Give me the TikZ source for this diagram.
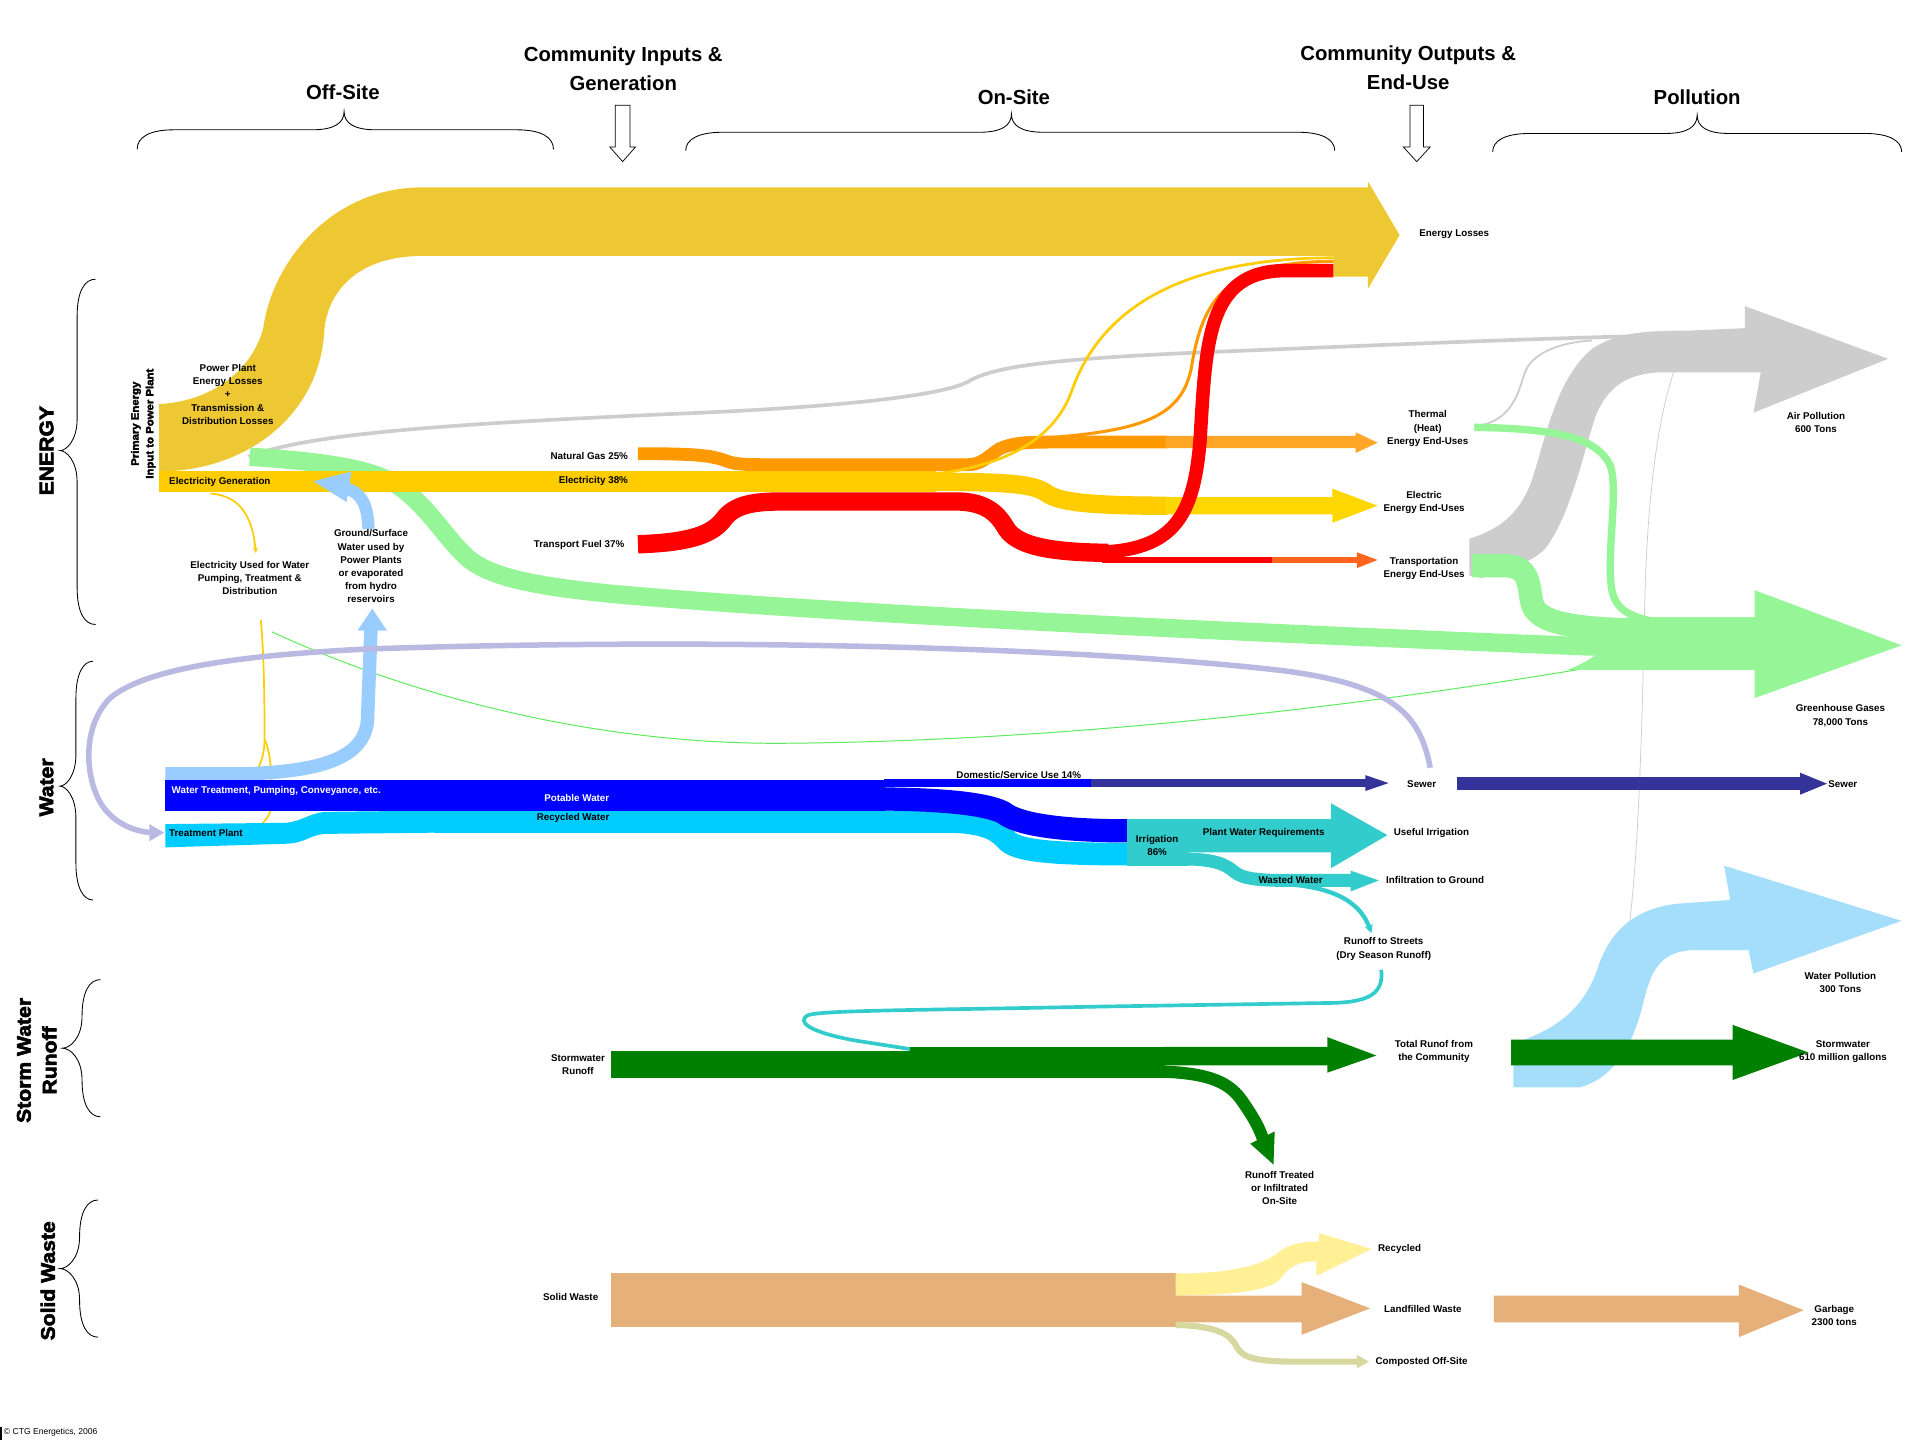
\documentclass[tikz,border=0pt]{standalone}
\usepackage{fontspec}
\setmainfont{Liberation Sans}
\newfontfamily\heavyfont[FakeStretch=1.08,FakeBold=3]{Liberation Sans}
\usetikzlibrary{arrows.meta}
\definecolor{lossY}{RGB}{238,200,50}
\definecolor{elecY}{RGB}{255,204,0}
\definecolor{elecEnd}{RGB}{255,215,0}
\definecolor{gasO}{RGB}{255,153,0}
\definecolor{gasEnd}{RGB}{255,165,40}
\definecolor{fuelR}{RGB}{255,0,0}
\definecolor{transO}{RGB}{255,100,30}
\definecolor{ghgC}{RGB}{150,245,150}
\definecolor{ghgLine}{RGB}{90,235,90}
\definecolor{airG}{RGB}{205,205,205}
\definecolor{ltBlue}{RGB}{153,204,255}
\definecolor{blueW}{RGB}{0,0,255}
\definecolor{cyanW}{RGB}{0,204,255}
\definecolor{navyW}{RGB}{51,51,153}
\definecolor{tealW}{RGB}{51,204,204}
\definecolor{lavC}{RGB}{185,185,225}
\definecolor{stormG}{RGB}{0,128,0}
\definecolor{wpolC}{RGB}{165,222,250}
\definecolor{tanC}{RGB}{230,176,122}
\definecolor{recyC}{RGB}{255,240,150}
\definecolor{compC}{RGB}{215,215,160}
\newcommand\hbr[6]{\draw[brace] (#1,#4) .. controls (#1,{#5+6}) and ({#1+10},#5) .. ({#1+30},#5) -- ({#3-26},#5) .. controls ({#3-8},#5) and (#3,{(#5+#6)/2+2}) .. (#3,#6) .. controls (#3,{(#5+#6)/2+2}) and ({#3+8},#5) .. ({#3+26},#5) -- ({#2-30},#5) .. controls ({#2-10},#5) and (#2,{#5+6}) .. (#2,#4);}
\newcommand\vbr[6]{\draw[brace] (#4,#1) .. controls ({#5+6},#1) and (#5,{#1+10}) .. (#5,{#1+30}) -- (#5,{#3-26}) .. controls (#5,{#3-8}) and ({(#5+#6)/2-2},#3) .. (#6,#3) .. controls ({(#5+#6)/2-2},#3) and (#5,{#3+8}) .. (#5,{#3+26}) -- (#5,{#2-30}) .. controls (#5,{#2-10}) and ({#5+6},#2) .. (#4,#2);}
\tikzset{
 lab/.style={font={\fontsize{8}{10.8}\selectfont\bfseries}, align=center, inner sep=0pt},
 hdr/.style={font={\fontsize{16.6}{24}\selectfont\bfseries}, align=center, inner sep=0pt},
 side/.style={font={\heavyfont\fontsize{16}{21}\selectfont\bfseries}, rotate=90, align=center, inner sep=0pt},
 brace/.style={draw=black, line width=0.7pt},
 band/.style={line cap=butt, line join=round},
 hollow/.style={draw=black, fill=white, line width=0.6pt},
}
\begin{document}
\begin{tikzpicture}[x=1pt,y=-1pt]
\useasboundingbox (0,0) rectangle (1568,1176);
\fill[white] (0,0) rectangle (1568,1176);

% ---------- headers ----------
\node[hdr] (offsite) at (280,75) {Off-Site};
\node[hdr] (cin) at (509,56) {Community Inputs \&\\Generation};
\node[hdr] (onsite) at (828,79) {On-Site};
\node[hdr] (cout) at (1150,55.5) {Community Outputs \&\\End-Use};
\node[hdr] (pollut) at (1386,79) {Pollution};

\hbr{112}{452}{281}{122}{106}{91}
\hbr{560}{1090}{826}{123}{108}{93}
\hbr{1219}{1553}{1386}{124}{109}{94}
\vbr{228}{510}{368}{78}{63}{49}
\vbr{540}{735}{642}{76}{62}{49}
\vbr{800}{912}{856}{82}{67}{51}
\vbr{980}{1092}{1036}{80}{65}{49}

\draw[hollow] (502.5,86) -- (514.5,86) -- (514.5,120) -- (519,120) -- (508.5,132) -- (498,120) -- (502.5,120) -- cycle;
\draw[hollow] (1151.5,86) -- (1162.5,86) -- (1162.5,120) -- (1168,120) -- (1157,132) -- (1146,120) -- (1151.5,120) -- cycle;

\node[side] (energy) at (38,368) {ENERGY};
\node[side] (water) at (38,643) {Water};
\node[side] (storm) at (30,866) {Storm Water\\Runoff};
\node[side] (solid) at (39,1046) {Solid Waste};

% ---------- energy losses ----------
\fill[lossY] (130,330) .. controls (170,328) and (205,305) .. (215,268) .. controls (222,215) and (270,153) .. (345,153) -- (1117,153) -- (1117,148) -- (1143,192) -- (1117,236) -- (1117,226) -- (1089,226) -- (1089,209) -- (345,209) .. controls (290,209) and (268,240) .. (265,268) .. controls (262,340) and (200,385) .. (130,385) -- cycle;

% thin gray line to air pollution
\draw[airG, line width=3pt] (203,373) .. controls (250,355) and (350,347) .. (550,338) .. controls (700,332) and (770,322) .. (790,312) .. controls (810,300) and (850,293) .. (1000,287) .. controls (1150,281) and (1300,274) .. (1425,273);

% long greenhouse band
\draw[ghgC, band, line width=15pt] (204,373) .. controls (280,378) and (310,385) .. (330,400) .. controls (352,418) and (362,436) .. (378,452) .. controls (395,470) and (430,478) .. (500,485) .. controls (700,503) and (1100,520) .. (1300,528) -- (1440,528);
% thin green line
\draw[ghgLine, line width=0.8pt] (222,516) .. controls (350,575) and (500,608) .. (640,607) .. controls (900,605) and (1150,570) .. (1300,545) -- (1433,540);

% electricity
\fill[elecY] (130,385) rectangle (764,402);
\draw[elecY, band, line width=15pt] (763,393.5) .. controls (830,393.5) and (845,396) .. (855,403) .. controls (865,410) and (890,413) .. (953,413);
\fill[elecEnd] (952,406) -- (1088,406) -- (1088,399) -- (1125,413) -- (1088,427) -- (1088,420) -- (952,420) -- cycle;

% natural gas
\draw[gasO, band, line width=10.5pt] (521,370.5) .. controls (570,370.5) and (580,372) .. (592,376) .. controls (600,379.5) and (610,379.5) .. (630,379.5) -- (790,379.5) .. controls (805,379.5) and (810,368) .. (820,365) .. controls (830,361.5) and (840,361) .. (860,361) -- (953,361);
\fill[gasEnd] (952,356) -- (1107,356) -- (1107,353) -- (1125,361.5) -- (1107,370) -- (1107,366) -- (952,366) -- cycle;

% transport fuel
\draw[fuelR, band, line width=15pt] (521,444.5) .. controls (565,443) and (582,436) .. (591,424) .. controls (600,412) and (615,409.5) .. (640,409.5) -- (780,409.5) .. controls (806,409.5) and (815,420) .. (822,432) .. controls (832,447) and (862,451) .. (905,451.5);
\draw[fuelR, band, line width=5.5pt] (900,457.3) -- (1040,457.3);
\draw[transO, band, line width=5.5pt] (1039,457.3) -- (1110,457.3);
\fill[transO] (1108,451) -- (1125,457.3) -- (1108,464) -- cycle;

% lines up to energy losses
\draw[elecY, line width=2.2pt] (764,387) .. controls (820,380) and (860,360) .. (875,320) .. controls (895,262) and (950,211) .. (1089,210.5);
\draw[gasO, line width=2.5pt] (850,358) .. controls (930,352) and (965,342) .. (973,300) .. controls (982,245) and (1000,213.5) .. (1089,213.5);
\draw[fuelR, band, line width=11pt] (895,451) .. controls (960,450) and (975,420) .. (980,360) .. controls (985,280) and (985,221) .. (1050,221) -- (1089,221);

% electricity used for water
\draw[elecY, line width=1.4pt, -{Stealth[length=5pt,width=4pt]}] (172,403) .. controls (195,405) and (206,420) .. (209,452);
\draw[elecY, line width=1.4pt] (213,506) .. controls (216,540) and (216,580) .. (216,604) .. controls (216,625) and (206,636) .. (198,644);
\draw[elecY, line width=1.4pt] (216,604) .. controls (222,615) and (222,640) .. (222,655) .. controls (222,668) and (212,675) .. (205,680);

% ---------- air pollution ----------
\fill[airG] (1200,440) .. controls (1225,432) and (1240,420) .. (1250,395) .. controls (1262,360) and (1270,310) .. (1300,285) .. controls (1320,272) and (1340,270) .. (1380,270) -- (1425,268) -- (1425,250) -- (1542,293) -- (1432,337) -- (1438,304) -- (1360,304) .. controls (1330,304) and (1313,315) .. (1303,340) .. controls (1293,370) and (1283,420) .. (1262,448) .. controls (1250,460) and (1230,466) .. (1210,472) -- (1200,470) -- cycle;
\draw[airG, line width=1.5pt] (1204,348) .. controls (1235,345) and (1240,320) .. (1245,305) .. controls (1250,290) and (1270,280) .. (1300,278);
\draw[airG, line width=0.6pt] (1372,290) .. controls (1355,330) and (1345,400) .. (1343,500) .. controls (1340,650) and (1335,760) .. (1322,800);

% ---------- greenhouse gases ----------
\draw[ghgC, band, line width=6pt] (1204,349) .. controls (1280,350) and (1305,360) .. (1315,380) .. controls (1322,400) and (1312,450) .. (1316,480) .. controls (1320,505) and (1340,512) .. (1440,513);
\draw[ghgC, band, line width=19pt] (1202,462) -- (1228,462) .. controls (1250,462) and (1248,478) .. (1251,492) .. controls (1254,506) and (1275,512) .. (1320,514) -- (1440,514);
\fill[ghgC] (1330,504) -- (1433,504) -- (1433,482) -- (1553,527) -- (1433,570) -- (1433,547) -- (1280,547) .. controls (1300,540) and (1310,528) .. (1330,520) -- cycle;

% ---------- water ----------
\draw[ltBlue, band, line width=11pt] (135,632) -- (200,632) .. controls (260,630) and (296,620) .. (300,590) -- (303,513);
\fill[ltBlue] (292,515) -- (304,497) -- (316,515) -- cycle;
\draw[ltBlue, band, line width=10pt] (301,432) .. controls (300,412) and (296,402) .. (280,398);
\fill[ltBlue] (256,393) -- (287,385) -- (283,410) -- cycle;

% lavender loop
\draw[lavC, line width=4.5pt] (1168,627) .. controls (1160,585) and (1140,560) .. (1050,548) .. controls (900,530) and (600,520) .. (300,530) .. controls (200,535) and (120,545) .. (90,570) .. controls (65,595) and (70,640) .. (85,660) .. controls (95,673) and (110,679) .. (124,680);
\fill[lavC] (122,673) -- (134,680) -- (122,687) -- cycle;

% treatment plant / recycled
\fill[cyanW] (135,673) -- (230,672) .. controls (245,672) and (250,665) .. (265,663) -- (356,662) -- (356,680) -- (265,681) .. controls (253,682) and (250,688) .. (235,689) -- (135,692) -- cycle;
\draw[cyanW, band, line width=18.5pt] (355,671) -- (780,671) .. controls (805,672) and (815,678) .. (822,686) .. controls (830,695) and (860,697.5) .. (921,697.5);
% potable
\fill[blueW] (135,637) rectangle (723,662);
\draw[blueW, band, line width=19pt] (722,652.5) .. controls (780,653) and (810,658) .. (820,664) .. controls (830,672) and (860,678.5) .. (921,678.5);
\draw[blueW, band, line width=7pt] (722,639.5) -- (892,639.5);
\draw[navyW, band, line width=7pt] (891,639.5) -- (1117,639.5);
\fill[navyW] (1115,633) -- (1134,639.5) -- (1115,646) -- cycle;
% irrigation
\fill[tealW] (920,669) rectangle (971,707);
\fill[tealW] (970,669) -- (1087,669) -- (1087,656) -- (1133,682) -- (1087,709) -- (1087,696) -- (970,696) -- cycle;
\draw[tealW, band, line width=10.5pt] (965,701.5) .. controls (990,701.5) and (1000,705) .. (1008,712) .. controls (1015,718) and (1030,719) .. (1050,719) -- (1104,719);
\fill[tealW] (1103,711) -- (1126,719) -- (1103,728) -- cycle;
\draw[tealW, line width=3.5pt, -{Stealth[length=7pt,width=7pt]}] (1050,722) .. controls (1095,725) and (1112,740) .. (1120,762);
\draw[tealW, line width=3pt] (1128,792) .. controls (1130,810) and (1120,818) .. (1090,819) -- (900,822) .. controls (750,825) and (672,825) .. (660,829) .. controls (650,834) and (660,843) .. (700,850) -- (745,857);

% sewer
\draw[navyW, band, line width=11pt] (1190,640) -- (1472,640);
\fill[navyW] (1470,631) -- (1492,640) -- (1470,649) -- cycle;

% ---------- storm water ----------
\fill[wpolC] (1236,852) .. controls (1275,840) and (1295,820) .. (1305,790) .. controls (1315,760) and (1335,742) .. (1370,738) -- (1413,735) -- (1408,707) -- (1553,752) -- (1432,795) -- (1428,776) -- (1380,776) .. controls (1355,778) and (1348,795) .. (1343,815) .. controls (1335,850) and (1320,880) .. (1290,888) -- (1236,888) -- cycle;
\fill[stormG] (1234,849) -- (1415,849) -- (1415,837) -- (1477,859.5) -- (1415,882) -- (1415,870) -- (1234,870) -- cycle;

\fill[stormG] (499,858) rectangle (744,880);
\fill[stormG] (743,855) rectangle (951,880);
\fill[stormG] (950,855) -- (1084,855) -- (1084,847) -- (1124,862) -- (1084,876) -- (1084,870) -- (950,870) -- cycle;
\draw[stormG, band, line width=10pt] (945,875) .. controls (990,876) and (1005,885) .. (1015,900) .. controls (1024,913) and (1029,922) .. (1032,932);
\fill[stormG] (1021,934) -- (1041,924) -- (1040,951) -- cycle;

% ---------- solid waste ----------
\fill[tanC] (499,1040) rectangle (961,1084);
\fill[recyC] (960,1040) .. controls (1000,1040) and (1030,1035) .. (1045,1022) .. controls (1055,1015) and (1065,1014) .. (1077,1014) -- (1077,1007) -- (1120,1020) -- (1075,1042) -- (1075,1030) .. controls (1060,1030) and (1052,1035) .. (1045,1045) .. controls (1035,1055) and (1000,1058) .. (960,1058) -- cycle;
\fill[tanC] (960,1058) -- (1063,1058) -- (1063,1047) -- (1119,1068.5) -- (1063,1090) -- (1063,1080) -- (960,1080) -- cycle;
\draw[compC, band, line width=5pt] (960,1082) .. controls (995,1083) and (1005,1090) .. (1010,1100) .. controls (1015,1110) and (1030,1112) .. (1060,1112) -- (1109,1112);
\fill[compC] (1108,1106.5) -- (1118,1112) -- (1108,1117.5) -- cycle;
\fill[tanC] (1220,1058) -- (1420,1058) -- (1420,1049) -- (1473,1070) -- (1420,1092) -- (1420,1080) -- (1220,1080) -- cycle;

% ---------- labels ----------
\node[lab] (ppl) at (186,322) {Power Plant\\Energy Losses\\+\\Transmission \&\\Distribution Losses};
\node[lab, font={\heavyfont\fontsize{8.6}{12}\selectfont\bfseries}, rotate=90] (prim) at (117,346) {Primary Energy\\Input to Power Plant};
\node[lab, anchor=west] (elecgen) at (138,394) {Electricity Generation};
\node[lab, anchor=east] (ng) at (513,372) {Natural Gas 25\%};
\node[lab, anchor=east] (el38) at (513,393) {Electricity 38\%};
\node[lab, anchor=east] (tf) at (510,445) {Transport Fuel 37\%};
\node[lab] (elecuse) at (204,472) {Electricity Used for Water\\Pumping, Treatment \&\\Distribution};
\node[lab] (gsw) at (303,462.5) {Ground/Surface\\Water used by\\Power Plants\\or evaporated\\from hydro\\reservoirs};
\node[lab, anchor=west] (eloss) at (1159,191) {Energy Losses};
\node[lab] (thermal) at (1166,350) {Thermal\\(Heat)\\Energy End-Uses};
\node[lab] (electric) at (1163,410.5) {Electric\\Energy End-Uses};
\node[lab] (transp) at (1163,464.5) {Transportation\\Energy End-Uses};
\node[lab] (airpol) at (1483,345) {Air Pollution\\600 Tons};
\node[lab] (ghg) at (1503,584.5) {Greenhouse Gases\\78,000 Tons};
\node[lab, anchor=west, text=white] (wtp) at (140,646) {Water Treatment, Pumping, Conveyance, etc.};
\node[lab, text=white] (potable) at (471,652) {Potable Water};
\node[lab] (recycled) at (468,668) {Recycled Water};
\node[lab, anchor=west] (tplant) at (138,680) {Treatment Plant};
\node[lab] (domestic) at (832,633) {Domestic/Service Use 14\%};
\node[lab] (irrig) at (945,690.5) {Irrigation\\86\%};
\node[lab] (pwr) at (1032,680) {Plant Water Requirements};
\node[lab] (useful) at (1169,680) {Useful Irrigation};
\node[lab] (wasted) at (1054,719) {Wasted Water};
\node[lab] (infil) at (1172,719) {Infiltration to Ground};
\node[lab] (runoffst) at (1130,775) {Runoff to Streets\\(Dry Season Runoff)};
\node[lab] (sewer1) at (1161,640) {Sewer};
\node[lab] (sewer2) at (1505,640) {Sewer};
\node[lab] (wpol) at (1503,802.5) {Water Pollution\\300 Tons};
\node[lab] (stormin) at (472,869.5) {Stormwater\\Runoff};
\node[lab] (totalrun) at (1171,858.5) {Total Runof from\\the Community};
\node[lab] (stormout) at (1505,858.5) {Stormwater\\610 million gallons};
\node[lab] (treated) at (1045,970) {Runoff Treated\\or Infiltrated\\On-Site};
\node[lab] (solidw) at (466,1059) {Solid Waste};
\node[lab] (recycl) at (1143,1020) {Recycled};
\node[lab] (landf) at (1162,1069) {Landfilled Waste};
\node[lab] (compost) at (1161,1112) {Composted Off-Site};
\node[lab] (garbage) at (1498,1074.5) {Garbage\\2300 tons};
\draw[black, line width=1.2pt] (1,1165) -- (1,1176);
\node[anchor=west, inner sep=0pt, font={\fontsize{7}{8}\selectfont}] (copy) at (3,1170) {© CTG Energetics, 2006};
\end{tikzpicture}
\end{document}
